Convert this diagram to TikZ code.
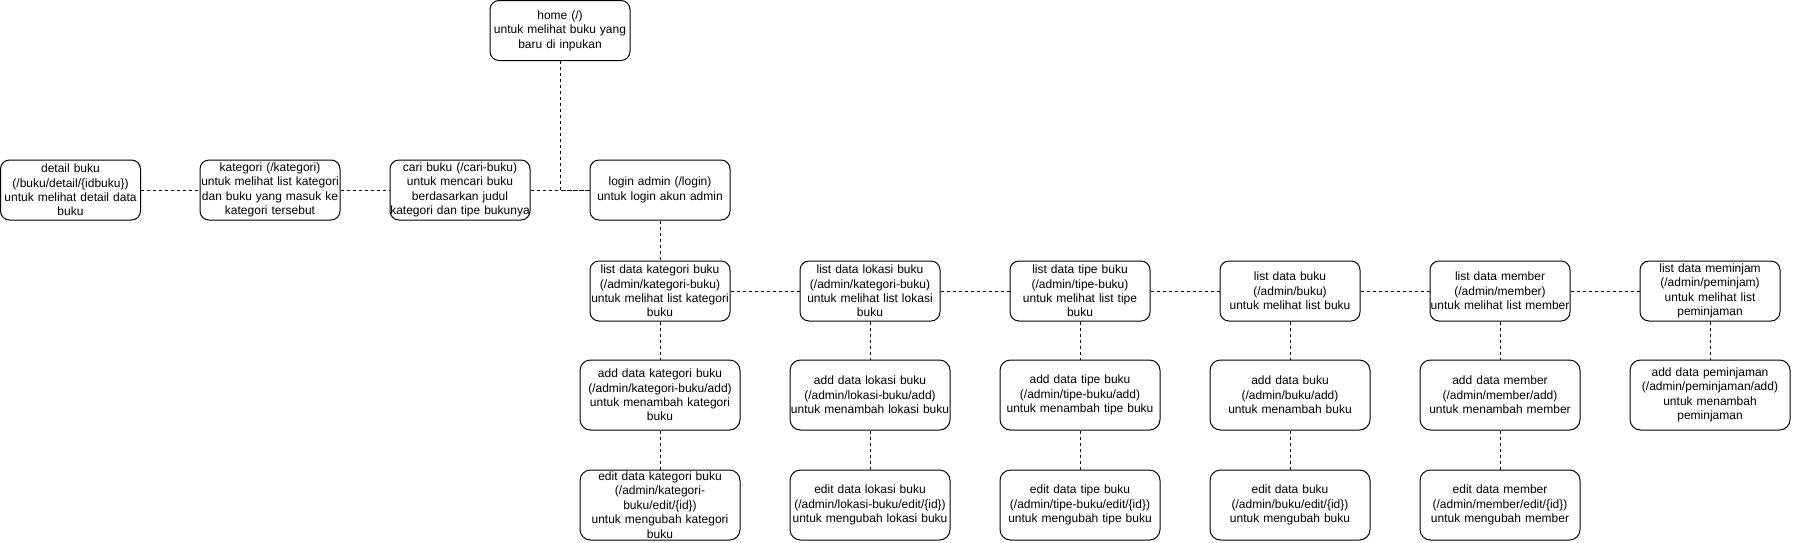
\documentclass[tikz,border=0pt]{standalone}
\usepackage{fontspec}
\setmainfont{Liberation Sans}
\begin{document}
\begin{tikzpicture}[x=1pt,y=-1pt,
  box/.style={draw, line width=1pt, rounded corners=9pt, minimum width=140pt, minimum height=60pt,
    text width=140pt, inner sep=0pt, align=center, font=\fontsize{12}{14.4}\selectfont},
  wbox/.style={box, minimum width=160pt, text width=160pt, minimum height=70pt, rounded corners=10.5pt},
  link/.style={draw, line width=1pt, dash pattern=on 3pt off 3pt}]
\useasboundingbox (0,0) rectangle (1793,542);
% top
\node[box] (home) at (560,30.5) {home (/)\\untuk melihat buku yang\\baru di inpukan};
% row 1
\node[box] (detail) at (70.5,190) {detail buku\\(/buku/detail/\{idbuku\})\\untuk melihat detail data\\buku};
\node[box] (kat) at (270,190) {kategori (/kategori)\\untuk melihat list kategori\\dan buku yang masuk ke\\kategori tersebut};
\node[box] (cari) at (460,190) {cari buku (/cari-buku)\\untuk mencari buku\\berdasarkan judul\\kategori dan tipe bukunya};
\node[box] (login) at (660,190) {login admin (/login)\\untuk login akun admin};
% row 2
\node[box] (lk) at (660,291) {list data kategori buku\\(/admin/kategori-buku)\\untuk melihat list kategori\\buku};
\node[box] (ll) at (870,291) {list data lokasi buku\\(/admin/kategori-buku)\\untuk melihat list lokasi\\buku};
\node[box] (lt) at (1080,291) {list data tipe buku\\(/admin/tipe-buku)\\untuk melihat list tipe\\buku};
\node[box] (lb) at (1290,291) {list data buku\\(/admin/buku)\\untuk melihat list buku};
\node[box] (lm) at (1500,291) {list data member\\(/admin/member)\\untuk melihat list member};
\node[box] (lp) at (1710,291) {list data meminjam\\(/admin/peminjam)\\untuk melihat list\\peminjaman};
% row 3
\node[wbox] (ak) at (660,395) {add data kategori buku\\(/admin/kategori-buku/add)\\untuk menambah kategori\\buku};
\node[wbox] (al) at (870,395) {add data lokasi buku\\(/admin/lokasi-buku/add)\\untuk menambah lokasi buku};
\node[wbox] (at) at (1080,395) {add data tipe buku\\(/admin/tipe-buku/add)\\untuk menambah tipe buku};
\node[wbox] (ab) at (1290,395) {add data buku\\(/admin/buku/add)\\untuk menambah buku};
\node[wbox] (am) at (1500,395) {add data member\\(/admin/member/add)\\untuk menambah member};
\node[wbox] (ap) at (1710,395) {add data peminjaman\\(/admin/peminjaman/add)\\untuk menambah\\peminjaman};
% row 4
\node[wbox] (ek) at (660,505) {edit data kategori buku\\(/admin/kategori-\\buku/edit/\{id\})\\untuk mengubah kategori\\buku};
\node[wbox] (el) at (870,505) {edit data lokasi buku\\(/admin/lokasi-buku/edit/\{id\})\\untuk mengubah lokasi buku};
\node[wbox] (et) at (1080,505) {edit data tipe buku\\(/admin/tipe-buku/edit/\{id\})\\untuk mengubah tipe buku};
\node[wbox] (eb) at (1290,505) {edit data buku\\(/admin/buku/edit/\{id\})\\untuk mengubah buku};
\node[wbox] (em) at (1500,505) {edit data member\\(/admin/member/edit/\{id\})\\untuk mengubah member};
% connectors
\draw[link] (home.south) |- (login.west);
\draw[link] (detail) -- (kat);
\draw[link] (kat) -- (cari);
\draw[link] (cari) -- (login);
\draw[link] (login) -- (lk);
\draw[link] (lk) -- (ll);
\draw[link] (ll) -- (lt);
\draw[link] (lt) -- (lb);
\draw[link] (lb) -- (lm);
\draw[link] (lm) -- (lp);
\draw[link] (lk) -- (ak);
\draw[link] (ll) -- (al);
\draw[link] (lt) -- (at);
\draw[link] (lb) -- (ab);
\draw[link] (lm) -- (am);
\draw[link] (lp) -- (ap);
\draw[link] (ak) -- (ek);
\draw[link] (al) -- (el);
\draw[link] (at) -- (et);
\draw[link] (ab) -- (eb);
\draw[link] (am) -- (em);
\end{tikzpicture}
\end{document}
